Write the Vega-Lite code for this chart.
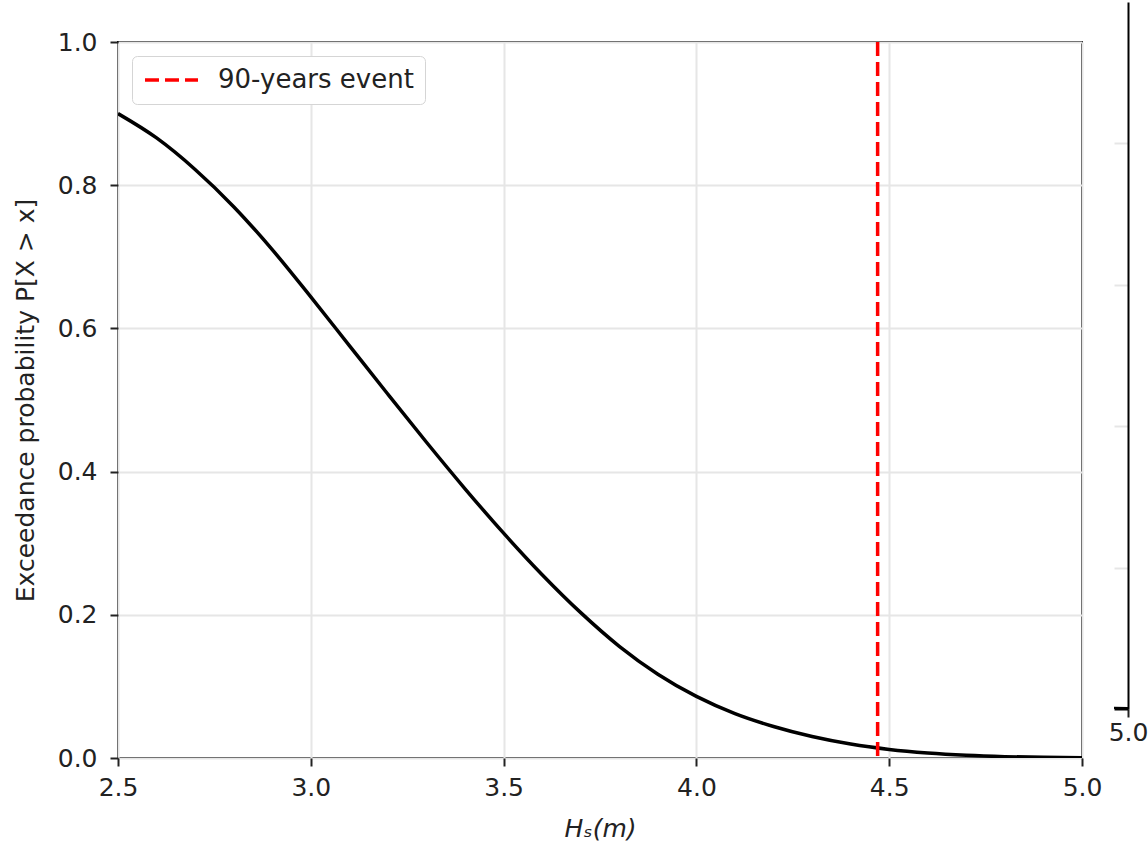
{
  "$schema": "https://vega.github.io/schema/vega-lite/v6.json",
  "padding": {"left": 12, "top": 2, "right": 0, "bottom": 0},
  "background": "white",
  "config": {
    "font": "DejaVu Sans",
    "axis": {
      "labelFont": "DejaVu Sans", "labelFontSize": 25, "labelColor": "#222",
      "titleFont": "DejaVu Sans", "titleFontSize": 25, "titleFontWeight": "normal", "titleColor": "#222",
      "tickColor": "#222", "tickWidth": 2, "tickSize": 8, "labelPadding": 9,
      "gridColor": "#e6e6e6", "gridWidth": 2, "domain": false, "labelFlush": false
    }
  },
  "datasets": {
    "curve": [
      {"hs": 2.5, "p": 0.900}, {"hs": 2.6, "p": 0.866}, {"hs": 2.7, "p": 0.822}, {"hs": 2.8, "p": 0.770},
      {"hs": 2.9, "p": 0.710}, {"hs": 3.0, "p": 0.644}, {"hs": 3.1, "p": 0.576}, {"hs": 3.2, "p": 0.508},
      {"hs": 3.3, "p": 0.441}, {"hs": 3.4, "p": 0.376}, {"hs": 3.5, "p": 0.314}, {"hs": 3.6, "p": 0.256},
      {"hs": 3.7, "p": 0.203}, {"hs": 3.8, "p": 0.156}, {"hs": 3.9, "p": 0.117}, {"hs": 4.0, "p": 0.086},
      {"hs": 4.1, "p": 0.062}, {"hs": 4.2, "p": 0.044}, {"hs": 4.3, "p": 0.030}, {"hs": 4.4, "p": 0.0195},
      {"hs": 4.5, "p": 0.012}, {"hs": 4.6, "p": 0.007}, {"hs": 4.7, "p": 0.0038}, {"hs": 4.8, "p": 0.0019},
      {"hs": 4.9, "p": 0.0009}, {"hs": 5.0, "p": 0.0004}
    ],
    "event": [{"hs": 4.47, "label": "90-years event"}],
    "blank": [{"k": 0}]
  },
  "spacing": 5,
  "resolve": {"scale": {"color": "independent"}, "legend": {"color": "independent"}},
  "hconcat": [
    {
      "spacing": 26,
      "resolve": {"scale": {"color": "independent"}, "legend": {"color": "independent"}},
      "vconcat": [
        {
          "width": 964, "height": 1,
          "view": {"stroke": null},
          "data": {"name": "blank"},
          "mark": {"type": "point", "opacity": 0, "size": 0}
        },
        {
          "width": 964, "height": 716,
          "view": {"stroke": "black", "strokeWidth": 2},
          "layer": [
            {
              "data": {"name": "curve"},
              "mark": {"type": "line", "color": "black", "strokeWidth": 3.5, "interpolate": "monotone", "clip": true},
              "encoding": {
                "x": {"field": "hs", "type": "quantitative",
                      "scale": {"domain": [2.5, 5.0], "nice": false, "zero": false},
                      "axis": {"values": [2.5, 3.0, 3.5, 4.0, 4.5, 5.0], "format": ".1f", "title": "Hₛ(m)", "titleFontStyle": "italic", "titlePadding": 16, "labelFlush": false}},
                "y": {"field": "p", "type": "quantitative",
                      "scale": {"domain": [0, 1], "nice": false},
                      "axis": {"values": [0, 0.2, 0.4, 0.6, 0.8, 1.0], "format": ".1f", "title": "Exceedance probability P[X > x]", "titlePadding": 19, "labelPadding": 13, "labelFlush": false}}
              }
            },
            {
              "data": {"name": "event"},
              "mark": {"type": "rule", "strokeDash": [14, 6], "strokeWidth": 3.5},
              "encoding": {
                "x": {"field": "hs", "type": "quantitative"},
                "color": {"field": "label", "type": "nominal",
                          "scale": {"domain": ["90-years event"], "range": ["red"]},
                          "legend": {"title": null, "orient": "top-left", "offset": 14, "symbolType": "stroke",
                                     "symbolSize": 2809, "symbolStrokeWidth": 3.5, "symbolDash": [14, 6],
                                     "labelFont": "DejaVu Sans", "labelFontSize": 26, "labelColor": "#222", "labelOffset": 18, "labelLimit": 500,
                                     "padding": 11, "strokeColor": "#d5d5d5", "cornerRadius": 5, "fillColor": "white", "clipHeight": 26}}
              }
            }
          ]
        }
      ]
    },
    {
      "width": 14, "height": 707,
      "view": {"stroke": null},
      "data": {"name": "curve"},
      "mark": {"type": "line", "color": "black", "strokeWidth": 3.5, "clip": true},
      "encoding": {
        "x": {"field": "hs", "type": "quantitative",
              "scale": {"domain": [4.95, 5.0], "nice": false, "zero": false},
              "axis": {"values": [5.0], "format": ".1f", "title": null, "domain": true, "domainColor": "black", "domainWidth": 2, "grid": false, "labelPadding": 3, "labelFlush": false}},
        "y": {"field": "p", "type": "quantitative",
              "scale": {"domain": [0, 1], "nice": false},
              "axis": {"orient": "right", "values": [0.2, 0.4, 0.6, 0.8], "labels": false, "ticks": false, "title": null,
                       "domain": true, "domainColor": "black", "domainWidth": 2, "grid": true}}
      }
    }
  ]
}
